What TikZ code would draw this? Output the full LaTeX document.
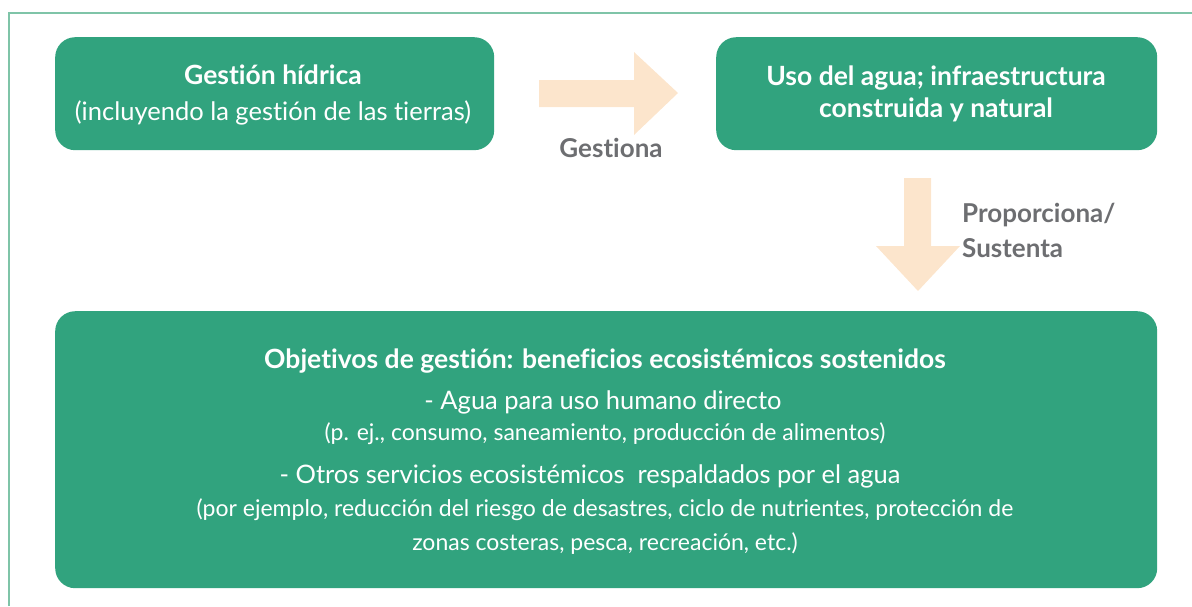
\documentclass[tikz,border=0pt]{standalone}
\usepackage{fontspec}
\setmainfont[Ligatures=NoCommon]{Lato}
\definecolor{boxgreen}{HTML}{31A37E}
\definecolor{arrowfill}{HTML}{FCE5CC}
\definecolor{labelgray}{HTML}{6D6E71}
\definecolor{framecol}{HTML}{7FC4A8}
\begin{document}
\begin{tikzpicture}[x=1pt,y=-1pt,
  box/.style={fill=boxgreen, rounded corners=20pt, inner sep=0pt, anchor=north west},
  txt/.style={text=white, inner sep=0pt, anchor=center},
  big/.style={font=\fontsize{25.5}{30}\selectfont},
  bigb/.style={font=\fontsize{26.5}{31}\selectfont\bfseries},
  small/.style={font=\fontsize{23}{27}\selectfont},
  glabel/.style={text=labelgray, inner sep=0pt, font=\fontsize{26}{30}\selectfont\bfseries},
  blockarrow/.style={fill=arrowfill, draw=none}]
\useasboundingbox (0,0) rectangle (1192,606);
\draw[framecol, line width=1.2pt] (9,606) -- (9,13) -- (1192,13);

\node[box, minimum width=439pt, minimum height=113pt] (b1) at (55,37) {};
\node[box, minimum width=441pt, minimum height=113pt] (b2) at (716,37) {};
\node[box, minimum width=1102pt, minimum height=277pt] (b3) at (55,311) {};

\node[txt, bigb] (t1a) at (273,75) {Gestión hídrica};
\node[txt, big] (t1b) at (273,113) {(incluyendo la gestión de las tierras)};
\node[txt, bigb] (t2a) at (936,78) {Uso del agua; infraestructura};
\node[txt, bigb] (t2b) at (936,110) {construida y natural};

\node[txt, bigb] (t3a) at (605,361) {Objetivos de gestión: beneficios ecosistémicos sostenidos};
\node[txt, big] (t3b) at (603,402) {- Agua para uso humano directo};
\node[txt, small] (t3c) at (605,434) {(p. ej., consumo, saneamiento, producción de alimentos)};
\node[txt, big] (t3d) at (590,476) {- Otros servicios ecosistémicos\ \ respaldados por el agua};
\node[txt, small] (t3e) at (605,510) {(por ejemplo, reducción del riesgo de desastres, ciclo de nutrientes, protección de};
\node[txt, small] (t3f) at (605,544) {zonas costeras, pesca, recreación, etc.)};

% right block arrow
\fill[blockarrow] (539,80) -- (634,80) -- (634,52) -- (678,93) -- (634,135) -- (634,107) -- (539,107) -- cycle;
\node[glabel, anchor=center] (l1) at (611,148) {Gestiona};

% down block arrow
\fill[blockarrow] (904,178) -- (931,178) -- (931,246) -- (960,246) -- (918,291) -- (876,246) -- (904,246) -- cycle;
\node[glabel, anchor=west] (l2) at (962,215) {Proporciona/};
\node[glabel, anchor=west] (l3) at (962,248) {Sustenta};
\end{tikzpicture}
\end{document}
